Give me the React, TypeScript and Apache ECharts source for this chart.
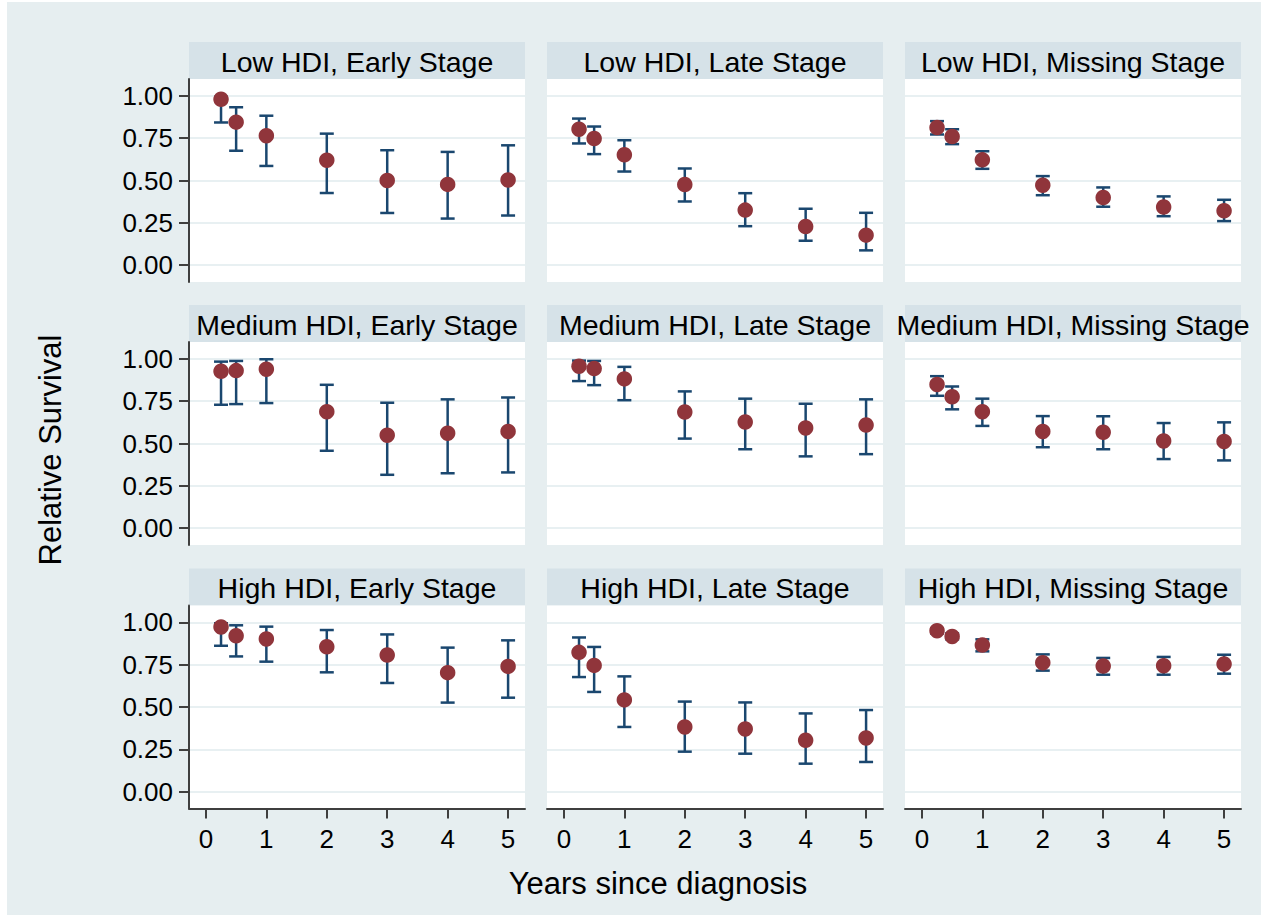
import React, { useEffect, useRef } from "react";
import * as echarts from "echarts";

// ---- data ----
const years = [0.25, 0.5, 1, 2, 3, 4, 5];
const xTicks = [0, 1, 2, 3, 4, 5];
const yTicks = [0, 0.25, 0.5, 0.75, 1];
const rowLabels = ["Low HDI", "Medium HDI", "High HDI"];
const colLabels = ["Early Stage", "Late Stage", "Missing Stage"];

const lowEarlyEst = [0.98, 0.845, 0.765, 0.62, 0.5, 0.477, 0.503];
const lowEarlyLo = [0.843, 0.676, 0.586, 0.426, 0.308, 0.275, 0.293];
const lowEarlyHi = [0.995, 0.933, 0.883, 0.777, 0.679, 0.669, 0.708];

const lowLateEst = [0.803, 0.748, 0.652, 0.476, 0.325, 0.228, 0.177];
const lowLateLo = [0.719, 0.656, 0.553, 0.376, 0.23, 0.144, 0.087];
const lowLateHi = [0.866, 0.819, 0.738, 0.571, 0.425, 0.333, 0.309];

const lowMissEst = [0.813, 0.76, 0.622, 0.472, 0.399, 0.343, 0.321];
const lowMissLo = [0.772, 0.715, 0.569, 0.413, 0.345, 0.289, 0.26];
const lowMissHi = [0.851, 0.803, 0.673, 0.526, 0.459, 0.406, 0.386];

const medEarlyEst = [0.927, 0.931, 0.939, 0.688, 0.549, 0.561, 0.571];
const medEarlyLo = [0.729, 0.733, 0.739, 0.457, 0.315, 0.324, 0.329];
const medEarlyHi = [0.984, 0.988, 0.998, 0.847, 0.741, 0.761, 0.772];

const medLateEst = [0.957, 0.943, 0.882, 0.686, 0.627, 0.592, 0.609];
const medLateLo = [0.869, 0.845, 0.756, 0.529, 0.466, 0.424, 0.437];
const medLateHi = [0.99, 0.988, 0.953, 0.808, 0.765, 0.735, 0.761];

const medMissEst = [0.849, 0.776, 0.688, 0.571, 0.566, 0.515, 0.512];
const medMissLo = [0.782, 0.702, 0.604, 0.478, 0.466, 0.408, 0.4];
const medMissHi = [0.898, 0.837, 0.765, 0.662, 0.661, 0.621, 0.625];

const highEarlyEst = [0.973, 0.921, 0.902, 0.856, 0.807, 0.703, 0.74];
const highEarlyLo = [0.862, 0.799, 0.768, 0.705, 0.642, 0.526, 0.555];
const highEarlyHi = [0.995, 0.983, 0.975, 0.955, 0.929, 0.851, 0.894];

const highLateEst = [0.823, 0.746, 0.542, 0.382, 0.37, 0.303, 0.317];
const highLateLo = [0.677, 0.589, 0.382, 0.236, 0.224, 0.165, 0.175];
const highLateHi = [0.911, 0.855, 0.681, 0.532, 0.527, 0.462, 0.482];

const highMissEst = [0.951, 0.917, 0.866, 0.762, 0.742, 0.744, 0.754];
const highMissLo = [0.935, 0.9, 0.829, 0.715, 0.691, 0.691, 0.697];
const highMissHi = [0.965, 0.935, 0.9, 0.811, 0.79, 0.796, 0.809];

const panels = [
  [lowEarlyEst, lowEarlyLo, lowEarlyHi],
  [lowLateEst, lowLateLo, lowLateHi],
  [lowMissEst, lowMissLo, lowMissHi],
  [medEarlyEst, medEarlyLo, medEarlyHi],
  [medLateEst, medLateLo, medLateHi],
  [medMissEst, medMissLo, medMissHi],
  [highEarlyEst, highEarlyLo, highEarlyHi],
  [highLateEst, highLateLo, highLateHi],
  [highMissEst, highMissLo, highMissHi],
];

// ---- style / layout ----
const FONT = "Liberation Sans, Arial, sans-serif";
const MAROON = "#90353B";
const NAVY = "#1A476F";
const BG = "#E6EEF0";
const STRIP = "#D6E2E8";
const GRIDLINE = "#E8F0F2";
const AXIS = "#3F3F3F";
const colLeft = [189, 547, 905];
const colWidth = 336;
const rowTop = [79, 342, 605.5];
const rowHeight = 203;
const headerH = 37;

export default function App() {
  const ref = useRef<HTMLDivElement>(null);
  useEffect(() => {
    if (!ref.current) return;
    const chart = echarts.init(ref.current, undefined, { renderer: "svg" });

    const grids: any[] = [];
    const xAxes: any[] = [];
    const yAxes: any[] = [];
    const series: any[] = [];
    const graphics: any[] = [
      { type: "rect", shape: { x: 7, y: 2, width: 1261, height: 915 }, style: { fill: BG }, z: -10 },
    ];

    for (let r = 0; r < 3; r++) {
      for (let c = 0; c < 3; c++) {
        const i = r * 3 + c;
        grids.push({
          left: colLeft[c],
          top: rowTop[r],
          width: colWidth,
          height: rowHeight,
          show: true,
          backgroundColor: "#ffffff",
          borderWidth: 0,
        });
        const showX = r === 2;
        const showY = c === 0;
        xAxes.push({
          type: "value",
          gridIndex: i,
          min: -0.28,
          max: 5.28,
          axisLine: { show: showX, onZero: false, lineStyle: { color: AXIS, width: 2 } },
          axisTick: { show: showX, length: 10, lineStyle: { color: AXIS, width: 2 }, customValues: xTicks },
          axisLabel: {
            show: showX,
            customValues: xTicks,
            margin: 17,
            fontSize: 26,
            fontFamily: FONT,
            color: "#000",
          },
          splitLine: { show: false },
        });
        yAxes.push({
          type: "value",
          gridIndex: i,
          min: -0.1,
          max: 1.1,
          axisLine: { show: showY, onZero: false, lineStyle: { color: AXIS, width: 2 } },
          axisTick: { show: showY, length: 10, lineStyle: { color: AXIS, width: 2 }, customValues: yTicks },
          axisLabel: {
            show: showY,
            customValues: yTicks,
            margin: 16,
            fontSize: 26,
            fontFamily: FONT,
            color: "#000",
            formatter: (v: number) => v.toFixed(2),
          },
          splitLine: { show: true, lineStyle: { color: GRIDLINE, width: 2 } },
        });
        const [est, lo, hi] = panels[i];
        series.push({
          type: "custom",
          xAxisIndex: i,
          yAxisIndex: i,
          z: 2,
          encode: { x: 0, y: [1, 2] },
          data: years.map((x, k) => [x, lo[k], hi[k]]),
          renderItem: (params: any, api: any) => {
            const x = api.value(0);
            const pLo = api.coord([x, api.value(1)]);
            const pHi = api.coord([x, api.value(2)]);
            const w = 7;
            const st = { stroke: NAVY, lineWidth: 2.5 };
            return {
              type: "group",
              children: [
                { type: "line", shape: { x1: pLo[0], y1: pLo[1], x2: pHi[0], y2: pHi[1] }, style: st },
                { type: "line", shape: { x1: pLo[0] - w, y1: pLo[1], x2: pLo[0] + w, y2: pLo[1] }, style: st },
                { type: "line", shape: { x1: pHi[0] - w, y1: pHi[1], x2: pHi[0] + w, y2: pHi[1] }, style: st },
              ],
            };
          },
        });
        series.push({
          type: "scatter",
          xAxisIndex: i,
          yAxisIndex: i,
          z: 3,
          symbol: "circle",
          symbolSize: 15.5,
          itemStyle: { color: MAROON, opacity: 1 },
          data: years.map((x, k) => [x, est[k]]),
        });
        // strip header
        graphics.push({
          type: "rect",
          shape: { x: colLeft[c], y: rowTop[r] - headerH, width: colWidth, height: headerH },
          style: { fill: STRIP },
          z: -5,
        });
        graphics.push({
          type: "text",
          x: colLeft[c] + colWidth / 2,
          y: rowTop[r] - headerH / 2 + 1,
          style: {
            text: `${rowLabels[r]}, ${colLabels[c]}`,
            fontSize: 28.5,
            fontFamily: FONT,
            fill: "#000",
            align: "center",
            verticalAlign: "middle",
          },
          z: 5,
        });
      }
    }

    graphics.push({
      type: "text",
      x: 50,
      y: 450,
      rotation: Math.PI / 2,
      style: {
        text: "Relative Survival",
        fontSize: 31,
        fontFamily: FONT,
        fill: "#000",
        align: "center",
        verticalAlign: "middle",
      },
      z: 5,
    });
    graphics.push({
      type: "text",
      x: 658,
      y: 883,
      style: {
        text: "Years since diagnosis",
        fontSize: 31,
        fontFamily: FONT,
        fill: "#000",
        align: "center",
        verticalAlign: "middle",
      },
      z: 5,
    });

    chart.setOption({
      animation: false,
      backgroundColor: "#ffffff",
      grid: grids,
      xAxis: xAxes,
      yAxis: yAxes,
      series,
      graphic: graphics,
    });
    return () => chart.dispose();
  }, []);
  return (
    <div
      ref={ref}
      style={{ position: "absolute", left: 0, top: 0, width: 1261, height: 915 }}
    />
  );
}
